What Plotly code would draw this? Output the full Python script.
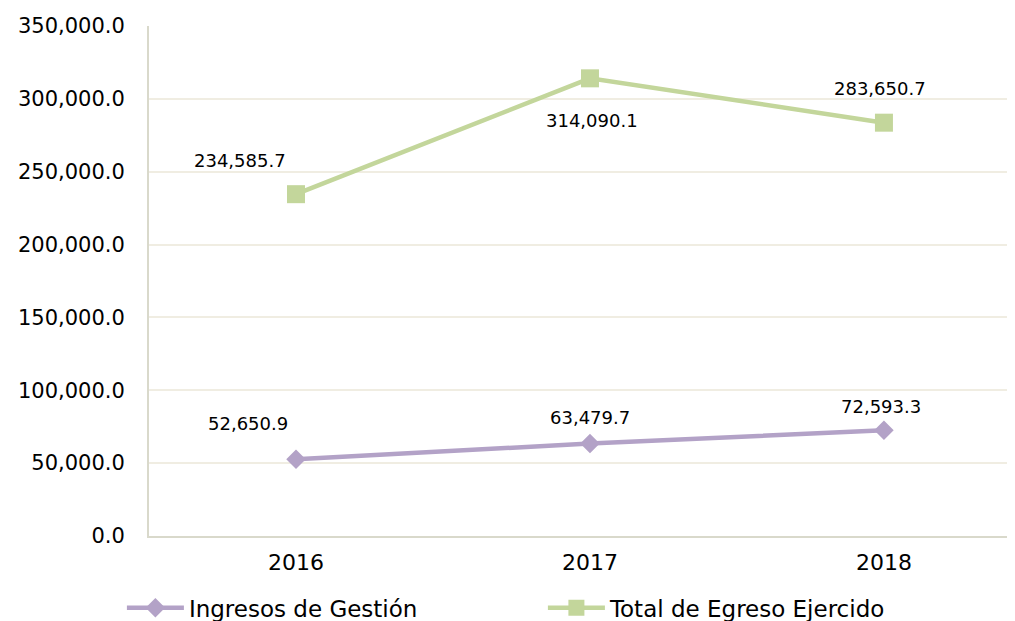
import plotly.graph_objects as go

years = ["2016", "2017", "2018"]
ingresos = [52650.9, 63479.7, 72593.3]
egresos = [234585.7, 314090.1, 283650.7]
name_ing = "Ingresos de Gestión"
name_egr = "Total de Egreso Ejercido"
y_ticks = [0, 50000, 100000, 150000, 200000, 250000, 300000, 350000]

green = "#C3D69B"
purple = "#B3A2C7"
font = "DejaVu Sans"

fig = go.Figure()
fig.add_trace(go.Scatter(x=[0, 1, 2], y=ingresos, mode="lines+markers", name=name_ing,
                         line=dict(color=purple, width=4.5),
                         marker=dict(symbol="diamond", size=15, color=purple)))
fig.add_trace(go.Scatter(x=[0, 1, 2], y=egresos, mode="lines+markers", name=name_egr,
                         line=dict(color=green, width=4.5),
                         marker=dict(symbol="square", size=18, color=green)))

# label offsets (pixels) relative to points
ing_shift = [(-48, 36), (0, 26), (-3, 24)]
egr_shift = [(-56, 34), (2, -42), (-4, 34)]
for i in range(3):
    fig.add_annotation(x=i, y=ingresos[i], text=f"{ingresos[i]:,.1f}", showarrow=False,
                       xshift=ing_shift[i][0], yshift=ing_shift[i][1],
                       font=dict(family=font, size=18, color="#000000"))
    fig.add_annotation(x=i, y=egresos[i], text=f"{egresos[i]:,.1f}", showarrow=False,
                       xshift=egr_shift[i][0], yshift=egr_shift[i][1],
                       font=dict(family=font, size=18, color="#000000"))

fig.update_layout(
    width=1015, height=640,
    margin=dict(l=141, r=0, t=18, b=112),
    plot_bgcolor="white", paper_bgcolor="white",
    font=dict(family=font, size=20, color="#000000"),
    showlegend=True,
    legend=dict(orientation="h", x=-0.031, xanchor="left", y=-0.141, yanchor="middle",
                entrywidth=349, entrywidthmode="pixels",
                font=dict(family=font, size=23, color="#000000"),
                itemwidth=57),
    xaxis=dict(range=[-0.5, 2.473], tickmode="array", tickvals=[0, 1, 2], ticktext=years,
               showgrid=False, zeroline=False, showline=True, linecolor="#D9D9CB", linewidth=2,
               ticks="", ticklabelstandoff=6, tickfont=dict(family=font, size=22)),
    yaxis=dict(range=[0, 350000], tickmode="array", tickvals=y_ticks,
               ticktext=[f"{v:,.1f}" for v in y_ticks],
               showgrid=True, gridcolor="#F0EDE2", gridwidth=1.5, zeroline=False,
               showline=True, linecolor="#D9D9CB", linewidth=2, ticks="",
               ticklabelstandoff=18, tickfont=dict(family=font, size=21)),
)

fig.write_html("out.html")
